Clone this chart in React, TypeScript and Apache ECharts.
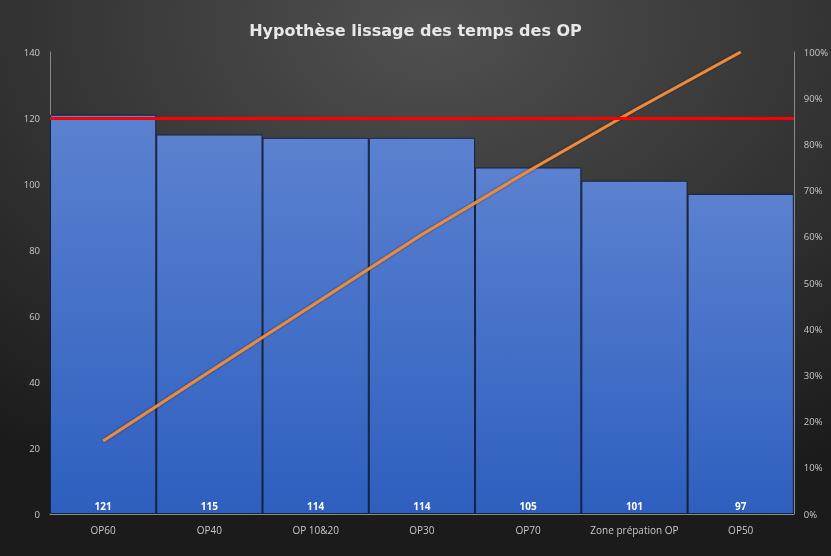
import React, { useEffect, useRef } from "react";
import * as echarts from "echarts";

const categories = ["OP60", "OP40", "OP 10&20", "OP30", "OP70", "Zone prépation OP", "OP50"];
const durations = [121, 115, 114, 114, 105, 101, 97];
const cumulativePct = [15.8, 30.8, 45.6, 60.5, 74.2, 87.4, 100];
const targetLine = 120;
const leftTicks = { min: 0, max: 140, interval: 20 };
const rightTicks = { min: 0, max: 100, interval: 10 };

export default function App() {
  const ref = useRef<HTMLDivElement>(null);
  useEffect(() => {
    if (!ref.current) return;
    const chart = echarts.init(ref.current, null, { renderer: "svg" });
    const axisLabel = { color: "#c8c8c8", fontSize: 9.5, fontFamily: "Open Sans" };
    chart.setOption({
      animation: false,
      backgroundColor: {
        type: "radial",
        x: 0.52,
        y: 0.05,
        r: 0.9,
        colorStops: [
          { offset: 0, color: "#505050" },
          { offset: 1, color: "#1b1b1b" },
        ],
      },
      title: {
        text: "Hypothèse lissage des temps des OP",
        left: "center",
        top: 17,
        textStyle: { color: "#e8e8e8", fontSize: 16, fontWeight: "bold", fontFamily: "DejaVu Sans" },
      },
      grid: { left: 50, right: 34, top: 52, bottom: 42 },
      xAxis: {
        type: "category",
        data: categories,
        axisLine: { show: true, lineStyle: { color: "#8a8a8a", width: 1 } },
        axisTick: { show: false },
        axisLabel: { ...axisLabel, fontSize: 10, margin: 11, interval: 0 },
      },
      yAxis: [
        {
          type: "value",
          ...leftTicks,
          axisLine: { show: true, lineStyle: { color: "#8a8a8a" } },
          axisTick: { show: false },
          splitLine: { show: false },
          axisLabel: { ...axisLabel, margin: 10 },
        },
        {
          type: "value",
          ...rightTicks,
          position: "right",
          axisLine: { show: true, lineStyle: { color: "#8a8a8a" } },
          axisTick: { show: false },
          splitLine: { show: false },
          axisLabel: { ...axisLabel, margin: 10, formatter: "{value}%" },
        },
      ],
      series: [
        {
          type: "bar",
          data: durations,
          barCategoryGap: "0%",
          itemStyle: {
            color: {
              type: "linear",
              x: 0, y: 0, x2: 0, y2: 1,
              colorStops: [
                { offset: 0, color: "#5b81d0" },
                { offset: 1, color: "#2e5fbf" },
              ],
            },
            borderColor: "#16233d",
            borderWidth: 1,
          },
          label: {
            show: true,
            position: "insideBottom",
            distance: 3,
            color: "#ffffff",
            fontSize: 10,
            fontWeight: "bold",
            fontFamily: "Open Sans",
          },
          markLine: {
            silent: true,
            symbol: "none",
            label: { show: false },
            lineStyle: { color: "#ff0000", width: 3, type: "solid" },
            data: [{ yAxis: targetLine }],
          },
          z: 2,
        },
        {
          type: "line",
          yAxisIndex: 1,
          data: cumulativePct,
          symbol: "none",
          lineStyle: {
            color: "#ed8a3c",
            width: 3,
            shadowColor: "rgba(0,0,0,0.6)",
            shadowBlur: 2,
          },
          z: 3,
        },
      ],
    });
    return () => chart.dispose();
  }, []);
  return (
    <div
      ref={ref}
      style={{ position: "fixed", left: 0, top: 0, width: 831, height: 556 }}
    />
  );
}
